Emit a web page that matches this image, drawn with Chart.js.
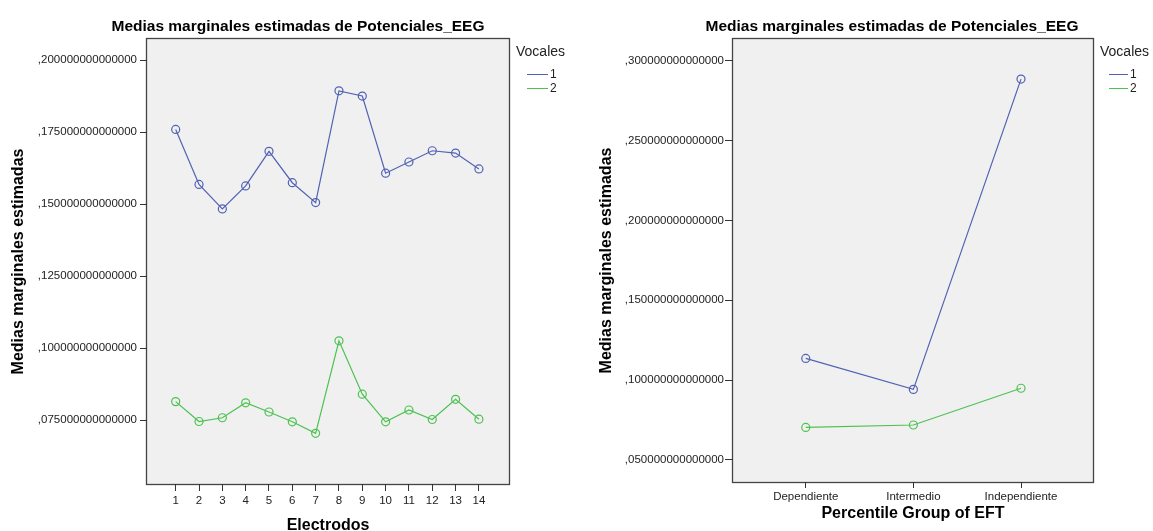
<!DOCTYPE html>
<html>
<head>
<meta charset="utf-8">
<script src="https://cdn.jsdelivr.net/npm/chart.js@4.4.1/dist/chart.umd.min.js"></script>
<style>
  html, body { margin: 0; padding: 0; background: #fff; }
  #wrap { position: relative; width: 1153px; height: 531px; overflow: hidden; }
  .box { position: absolute; top: 0; }
</style>
</head>
<body>
<div id="wrap">
  <div class="box" style="left:0"><canvas id="left" width="580" height="531"></canvas></div>
  <div class="box" style="left:580px"><canvas id="right" width="573" height="531"></canvas></div>
</div>
<script>
// data
const electrodes = [1, 2, 3, 4, 5, 6, 7, 8, 9, 10, 11, 12, 13, 14];
const vocal1ByElectrode = [0.1759, 0.1568, 0.1483, 0.1563, 0.1683, 0.1574, 0.1505,
                           0.1893, 0.1875, 0.1607, 0.1646, 0.1685, 0.1677, 0.1622];
const vocal2ByElectrode = [0.0814, 0.0745, 0.0758, 0.0810, 0.0778, 0.0744, 0.0704,
                           0.1025, 0.0840, 0.0744, 0.0785, 0.0752, 0.0822, 0.0753];
const eftGroups = ["Dependiente", "Intermedio", "Independiente"];
const vocal1ByGroup = [0.1136, 0.0942, 0.2885];
const vocal2ByGroup = [0.0704, 0.0719, 0.0949];
const leftYTicks = [0.075, 0.100, 0.125, 0.150, 0.175, 0.200];
const rightYTicks = [0.05, 0.10, 0.15, 0.20, 0.25, 0.30];
const vocalLabels = ["1", "2"];

const TITLE = "Medias marginales estimadas de Potenciales_EEG";
const Y_TITLE = "Medias marginales estimadas";
const LEGEND_TITLE = "Vocales";
const FONT = '"Liberation Sans", Arial, sans-serif';
const BLUE = "#5162b4";
const GREEN = "#4cc250";
const PLOT_BG = "#f0f0f0";
const FRAME = "#444";

// SPSS style: ,200000000000000
const spssNum = v => v.toFixed(15).replace(/^0\./, ",");

function makeSet(label, xs, ys, color) {
  return {
    label: label,
    data: xs.map((x, i) => ({ x: x, y: ys[i] })),
    borderColor: color,
    borderWidth: 1.2,
    pointRadius: 4,
    pointBorderWidth: 1.2,
    pointBorderColor: color,
    pointBackgroundColor: "rgba(0,0,0,0)",
    tension: 0,
  };
}

// plot background, frame, title and legend
function decor(cfg) {
  return {
    id: "decor",
    beforeDraw(chart) {
      const { ctx, chartArea: a } = chart;
      ctx.save();
      ctx.fillStyle = PLOT_BG;
      ctx.fillRect(a.left, a.top, a.right - a.left, a.bottom - a.top);
      ctx.strokeStyle = FRAME;
      ctx.lineWidth = 1.3;
      ctx.strokeRect(a.left - 0.5, a.top - 0.5, a.right - a.left + 1, a.bottom - a.top + 1);
      ctx.restore();
    },
    afterDraw(chart) {
      const ctx = chart.ctx;
      ctx.save();
      ctx.fillStyle = "#000";
      ctx.font = "bold 15.5px " + FONT;
      ctx.textAlign = "center";
      ctx.textBaseline = "alphabetic";
      ctx.fillText(TITLE, cfg.titleX, 31);

      ctx.fillStyle = "#222";
      ctx.textAlign = "left";
      ctx.textBaseline = "middle";
      ctx.font = "14px " + FONT;
      ctx.fillText(LEGEND_TITLE, cfg.legX, cfg.legTitleY);
      ctx.font = "12px " + FONT;
      chart.data.datasets.forEach((ds, i) => {
        const y = cfg.legY[i];
        ctx.strokeStyle = ds.borderColor;
        ctx.lineWidth = 1;
        ctx.beginPath();
        ctx.moveTo(cfg.lineX0, y + 0.5);
        ctx.lineTo(cfg.lineX1, y + 0.5);
        ctx.stroke();
        ctx.fillText(ds.label, cfg.lineX1 + 2, y + 1);
      });
      ctx.restore();
    },
  };
}

function buildChart(id, s) {
  return new Chart(document.getElementById(id), {
    type: "line",
    data: {
      datasets: [
        makeSet(vocalLabels[0], s.xs, s.v1, BLUE),
        makeSet(vocalLabels[1], s.xs, s.v2, GREEN),
      ],
    },
    options: {
      responsive: false,
      animation: false,
      layout: { padding: { top: 39, right: s.padRight, bottom: 0, left: 0 } },
      plugins: {
        legend: { display: false },
        title: { display: false },
        tooltip: { enabled: false },
      },
      scales: {
        x: {
          type: "linear",
          min: s.xMin,
          max: s.xMax,
          afterBuildTicks: sc => { sc.ticks = s.xs.map(v => ({ value: v })); },
          afterFit: sc => { sc.height = s.xHeight; },
          grid: { drawOnChartArea: false, drawTicks: true, tickLength: s.xTick, color: "#333" },
          border: { display: false },
          ticks: {
            padding: s.xPad,
            color: "#222",
            maxRotation: 0,
            autoSkip: false,
            font: { family: FONT, size: 11.5 },
            callback: s.xLabel,
          },
          title: {
            display: true,
            text: s.xTitle,
            color: "#000",
            font: { family: FONT, size: 16, weight: "bold" },
            padding: { top: 0, bottom: s.xTitlePad },
          },
        },
        y: {
          min: s.yMin,
          max: s.yMax,
          afterBuildTicks: sc => { sc.ticks = s.yTicks.map(v => ({ value: v })); },
          afterFit: sc => { sc.width = s.yWidth; },
          grid: { drawOnChartArea: false, drawTicks: true, tickLength: s.yTick, color: "#333" },
          border: { display: false },
          ticks: {
            padding: s.yPad,
            color: "#222",
            font: { family: FONT, size: 11.5 },
            callback: v => spssNum(v),
          },
          title: {
            display: true,
            text: Y_TITLE,
            color: "#000",
            font: { family: FONT, size: 16, weight: "bold" },
            padding: { top: s.yTitlePad, bottom: 0 },
          },
        },
      },
    },
    plugins: [decor(s.decor)],
  });
}

buildChart("left", {
  xs: electrodes, v1: vocal1ByElectrode, v2: vocal2ByElectrode,
  xMin: -0.23, xMax: 15.29, xLabel: v => String(v), xTitle: "Electrodos",
  xHeight: 47, xTick: 7, xPad: 3, xTitlePad: -4.4,
  yMin: 0.0528, yMax: 0.2073, yTicks: leftYTicks,
  yWidth: 147, yTick: 7, yPad: 3, yTitlePad: 9.4,
  padRight: 71,
  decor: { titleX: 298, legX: 516, legTitleY: 52, legY: [74, 88], lineX0: 527, lineX1: 548 },
});

buildChart("right", {
  xs: [0, 1, 2], v1: vocal1ByGroup, v2: vocal2ByGroup,
  xMin: -0.676, xMax: 2.669, xLabel: v => eftGroups[v], xTitle: "Percentile Group of EFT",
  xHeight: 49, xTick: 6, xPad: 2, xTitlePad: 7.6,
  yMin: 0.0362, yMax: 0.3136, yTicks: rightYTicks,
  yWidth: 153, yTick: 8, yPad: 1, yTitlePad: 17,
  padRight: 60,
  decor: { titleX: 312, legX: 520, legTitleY: 52, legY: [74, 88], lineX0: 529, lineX1: 548 },
});
</script>
</body>
</html>
